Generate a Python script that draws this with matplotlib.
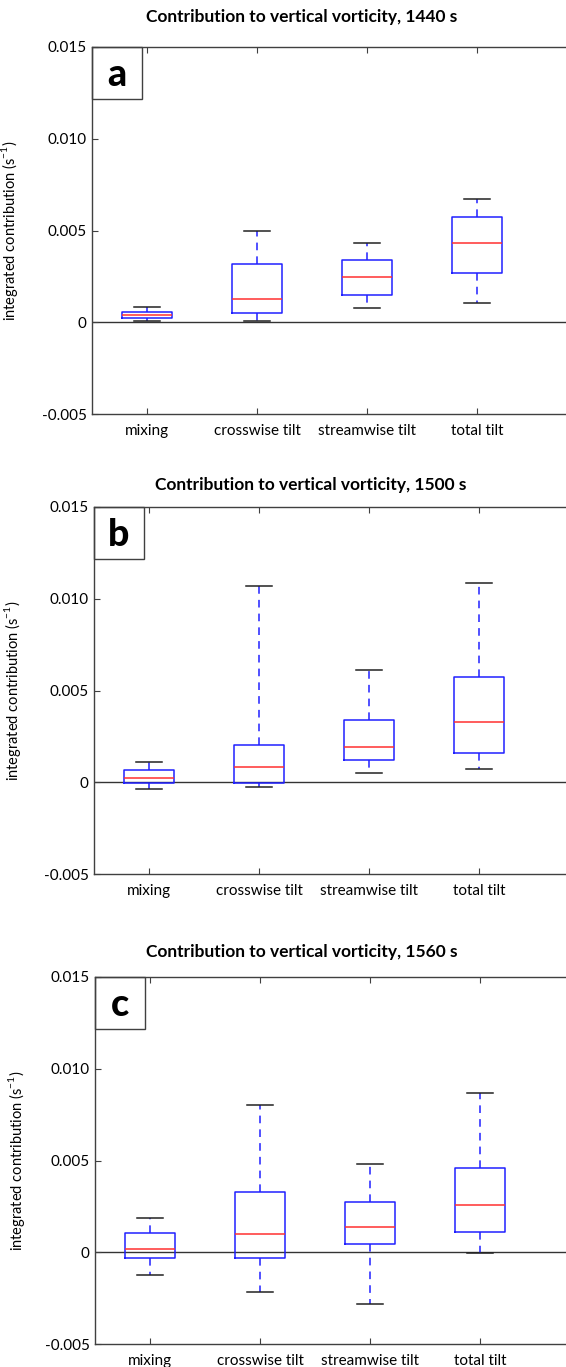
import matplotlib.pyplot as plt
from matplotlib.patches import Rectangle

plt.rcParams['font.family'] = ['Lato', 'DejaVu Sans']

categories = ['mixing', 'crosswise tilt', 'streamwise tilt', 'total tilt']
times = ['1440', '1500', '1560']
letters = ['a', 'b', 'c']

# whisker low, q1, median, q3, whisker high for each category
stats_1440 = [
    [0.00007, 0.00021, 0.00040, 0.00058, 0.00081],
    [0.00007, 0.00050, 0.00128, 0.00317, 0.00497],
    [0.00079, 0.00149, 0.00245, 0.00341, 0.00434],
    [0.00107, 0.00267, 0.00432, 0.00575, 0.00673],
]
stats_1500 = [
    [-0.00035, -0.00003, 0.00021, 0.00066, 0.00112],
    [-0.00028, -0.00005, 0.00084, 0.00204, 0.01068],
    [0.00052, 0.00119, 0.00192, 0.00338, 0.00614],
    [0.00074, 0.00157, 0.00326, 0.00576, 0.01088],
]
stats_1560 = [
    [-0.00126, -0.00033, 0.00018, 0.00107, 0.00187],
    [-0.00217, -0.00033, 0.00099, 0.00328, 0.00802],
    [-0.00282, 0.00045, 0.00136, 0.00272, 0.00481],
    [-0.00006, 0.00111, 0.00260, 0.00459, 0.00866],
]
yticks = [-0.005, 0, 0.005, 0.010, 0.015]
ytick_labels = ['-0.005', '0', '0.005', '0.010', '0.015']

W, H = 566, 1367
fig = plt.figure(figsize=(W / 100, H / 100), dpi=100)

# axes rectangles in pixels: left, top, bottom ; title centre (x, y)
layout = [
    (92, 47, 414, 302, 17),
    (94, 507, 874, 311, 485),
    (95, 977, 1344, 302, 952),
]
all_stats = [stats_1440, stats_1500, stats_1560]
spine_col = '#404040'

for i, (left, top, bottom, tx, ty) in enumerate(layout):
    ax = fig.add_axes([left / W, 1 - bottom / H, 1 - left / W, (bottom - top) / H])
    bxp_stats = []
    for cat, s in zip(categories, all_stats[i]):
        bxp_stats.append(dict(whislo=s[0], q1=s[1], med=s[2], q3=s[3], whishi=s[4],
                              fliers=[], label=cat))
    ax.bxp(bxp_stats, positions=[1, 2, 3, 4], widths=0.45, capwidths=0.23,
           showfliers=False,
           boxprops=dict(color='#2020ff', lw=1.1),
           medianprops=dict(color='#ff3030', lw=1.1),
           whiskerprops=dict(color='#2020ff', lw=1.1, linestyle=(0, (5, 4))),
           capprops=dict(color='#222222', lw=1.1))
    ax.axhline(0, color='#333333', lw=1.0, zorder=0)
    ax.set_xlim(0.5, 0.5 + (W - left) / 110)
    ax.set_ylim(-0.005, 0.015)
    ax.set_yticks(yticks)
    ax.set_yticklabels(ytick_labels)
    ax.set_xticks([1, 2, 3, 4])
    ax.set_xticklabels(categories)
    ax.tick_params(direction='in', length=4, width=0.8, color=spine_col,
                   labelsize=11, top=True, right=False)
    ax.tick_params(axis='x', pad=7)
    ax.tick_params(axis='y', pad=4)
    ax.spines['right'].set_visible(False)
    for sp in ['left', 'top', 'bottom']:
        ax.spines[sp].set_color(spine_col)
        ax.spines[sp].set_linewidth(1.0)
    ax.set_ylabel('integrated contribution (s$^{\\mathregular{-1}}$)', fontsize=10.5,
                  labelpad=6)
    ax.yaxis.set_label_coords((20 + i * 3.5 - left) / (W - left), 0.5)

    # panel letter box
    bw = 50 / (W - left)
    bh = 52 / (bottom - top)
    ax.add_patch(Rectangle((0, 1 - bh), bw, bh, transform=ax.transAxes,
                           fill=False, edgecolor=spine_col, lw=1.0, clip_on=False))
    ax.text(bw / 2, 1 - bh / 2 - 0.005, letters[i], transform=ax.transAxes,
            ha='center', va='center', fontsize=27, fontweight='black')

    fig.text(tx / W, 1 - ty / H, 'Contribution to vertical vorticity, %s s' % times[i],
             ha='center', va='center', fontsize=12.5, fontweight='bold')

fig.savefig('out.png', dpi=100)
